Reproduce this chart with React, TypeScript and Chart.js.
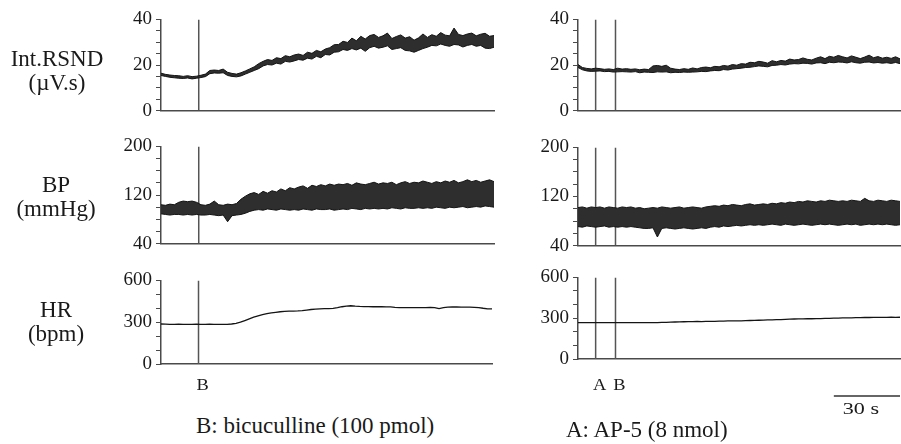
import React, { useEffect, useRef } from "react";
import { Chart, registerables } from "chart.js";

Chart.register(...registerables);

// ---------------- data ----------------
const STEP_S = 2; // sampling interval of the read-off values, seconds
const LEFT_MAX_S = 150;
const RIGHT_MAX_S = 146;

const LEFT_MARKER_TIMES = [17];
const LEFT_MARKER_LABELS = ["B"];
const RIGHT_MARKER_TIMES = [8, 17];
const RIGHT_MARKER_LABELS = ["A", "B"];
const SCALE_BAR_S = 30;
const SCALE_BAR_LABEL = "30 s";

const RSND_TICK_LABELS = [0, 20, 40];
const BP_TICK_LABELS = [40, 120, 200];
const HR_TICK_LABELS = [0, 300, 600];

// Left column (bicuculline), upper/lower envelope of Int.RSND (µV.s)
const RSND_L_HI = [
  16.4, 15.9, 15.6, 15.4, 15.3, 15.0, 15.3, 14.9, 15.1, 15.5,
  16.0, 17.6, 17.8, 17.6, 18.2, 16.8, 16.3, 16.0, 16.6, 17.4,
  18.3, 19.2, 20.6, 21.6, 22.4, 22.0, 23.2, 22.8, 24.1, 23.6,
  24.4, 24.8, 24.2, 25.6, 25.1, 26.4, 25.8, 27.0, 27.6, 28.9,
  29.0, 30.4, 29.9, 31.8, 30.6, 32.6, 31.4, 32.9, 33.4, 32.1,
  32.8, 34.0, 31.6, 32.5, 33.2, 31.8, 32.4, 30.9, 31.9, 33.6,
  32.1, 33.3, 32.6, 34.2, 33.1, 32.8, 36.2, 33.4, 32.9, 33.6,
  34.0, 32.8, 33.5, 33.9, 32.6, 32.9,
];
const RSND_L_LO = [
  15.4, 15.0, 14.6, 14.4, 14.2, 14.1, 14.3, 13.9, 14.2, 14.5,
  14.9, 16.2, 16.5, 16.4, 16.6, 15.4, 15.0, 14.8, 15.2, 16.0,
  16.8, 17.6, 18.4, 19.6, 20.2, 20.0, 20.8, 20.4, 21.6, 21.3,
  21.8, 22.4, 22.1, 23.0, 22.6, 23.8, 23.2, 24.6, 24.4, 25.6,
  25.8, 26.8, 26.4, 27.2, 26.6, 27.4, 26.0, 27.6, 28.2, 27.4,
  27.8, 28.4, 26.8, 27.2, 27.6, 26.4, 26.2, 25.6, 26.4, 27.2,
  27.8, 28.6, 28.4, 29.2, 28.6, 28.2, 29.0, 28.8, 27.9, 28.6,
  29.0, 28.2, 28.6, 27.4, 27.2, 27.8,
];
// Left column BP (mmHg) systolic / diastolic envelope
const BP_L_SYS = [
  104, 103, 105, 104, 108, 110, 109, 110, 108, 104,
  103, 105, 110, 104, 103, 105, 104, 106, 113, 118,
  122, 124, 121, 126, 123, 127, 125, 130, 127, 132,
  130, 133, 135, 131, 136, 134, 137, 135, 138, 136,
  138, 137, 139, 136, 140, 138, 137, 139, 141, 138,
  140, 139, 141, 137, 140, 142, 139, 141, 140, 143,
  141, 139, 142, 140, 143, 141, 144, 140, 142, 145,
  142, 144, 141, 143, 145, 142,
];
const BP_L_DIA = [
  89, 88, 87, 88, 88, 87, 88, 87, 88, 87,
  87, 88, 87, 86, 87, 76, 86, 87, 88, 90,
  93, 95, 96, 95, 97, 96, 95, 97, 96, 95,
  96, 95, 97, 96, 95, 97, 96, 96, 97, 95,
  96, 97, 96, 98, 97, 96, 98, 97, 98, 97,
  98, 97, 99, 98, 97, 99, 98, 98, 99, 98,
  99, 98, 100, 99, 98, 100, 99, 100, 101, 99,
  100, 101, 100, 102, 101, 100,
];
// Left column HR (bpm)
const HR_L = [
  287, 286, 285, 285, 286, 285, 284, 285, 286, 285,
  285, 286, 284, 285, 285, 284, 287, 292, 300, 312,
  324, 336, 346, 354, 361, 367, 371, 375, 378, 380,
  380, 381, 383, 387, 391, 394, 396, 397, 398, 399,
  404, 411, 416, 418, 415, 413, 412, 412, 411, 412,
  411, 410, 410, 407, 405, 404, 404, 405, 404, 404,
  405, 407, 404, 398, 404, 408, 410, 409, 408, 408,
  408, 407, 405, 400, 396, 395,
];

// Right column (AP-5 then bicuculline)
const RSND_R_HI = [
  20.2, 18.9, 18.5, 18.3, 18.6, 18.4, 18.1, 18.3, 18.0, 18.6,
  18.2, 18.4, 18.1, 18.3, 17.9, 18.2, 18.0, 19.6, 19.8, 19.4,
  19.9, 18.6, 18.2, 18.0, 18.4, 18.1, 18.7, 18.3, 18.9, 19.1,
  18.8, 19.4, 19.2, 19.8, 19.5, 20.2, 19.9, 20.6, 20.4, 21.2,
  21.0, 21.6, 21.3, 20.8, 21.9, 21.4, 22.0, 21.7, 22.6, 22.2,
  22.4, 23.1, 22.5, 22.2, 23.0, 23.6, 22.8, 23.8, 23.4, 24.2,
  23.6, 23.1, 24.0, 23.4, 22.8, 23.5, 24.3, 23.2, 23.7, 23.0,
  23.4, 22.9, 23.6, 22.7,
];
const RSND_R_LO = [
  18.9, 17.9, 17.4, 17.2, 17.3, 17.4, 17.1, 17.2, 16.9, 17.0,
  17.1, 17.0, 16.9, 17.1, 16.6, 16.9, 16.8, 16.7, 17.0, 16.9,
  17.0, 16.6, 16.8, 16.7, 16.9, 16.8, 16.9, 17.0, 17.2, 17.1,
  17.4, 17.6, 17.5, 18.0, 17.8, 18.2, 18.4, 18.6, 18.9, 19.0,
  19.3, 19.6, 19.4, 19.2, 19.8, 19.9, 20.2, 20.0, 20.4, 20.6,
  20.5, 20.8, 20.7, 20.4, 20.9, 21.0, 20.6, 21.2, 21.0, 21.3,
  21.2, 20.9, 21.4, 21.0, 20.8, 21.2, 21.3, 20.9, 21.1, 20.8,
  21.0, 20.7, 21.1, 20.6,
];
const BP_R_SYS = [
  102, 103, 101, 103, 102, 103, 101, 103, 102, 101,
  103, 102, 103, 101, 102, 100, 101, 102, 101, 103,
  102, 101, 102, 103, 101, 102, 103, 102, 101, 103,
  104, 105, 104, 106, 105, 107, 106, 105, 107, 108,
  106, 107, 108, 107, 109, 108, 110, 109, 111, 110,
  112, 111, 113, 112, 111, 113, 112, 114, 113, 112,
  113, 112, 114, 113, 112, 117, 113, 112, 114, 113,
  112, 114, 113, 112,
];
const BP_R_DIA = [
  71, 70, 72, 71, 70, 71, 72, 70, 71, 70,
  71, 70, 71, 70, 69, 68, 68, 69, 54, 68,
  69, 68, 67, 68, 69, 68, 67, 68, 69, 68,
  70, 71, 70, 72, 71, 72, 73, 72, 73, 74,
  73, 74, 73, 74, 75, 74, 73, 75, 74, 73,
  74, 75, 74, 73, 74, 75, 74, 75, 74, 73,
  74, 75, 74, 75, 73, 74, 75, 74, 75, 74,
  75, 74, 73, 74,
];
const HR_R = [
  268, 267, 267, 268, 267, 267, 268, 267, 267, 268,
  267, 267, 268, 267, 268, 268, 267, 268, 268, 269,
  270, 271, 272, 273, 274, 275, 275, 276, 275, 276,
  276, 277, 278, 279, 280, 280, 281, 281, 282, 283,
  284, 285, 286, 287, 288, 289, 290, 292, 293, 294,
  295, 295, 296, 296, 297, 297, 298, 299, 300, 301,
  302, 303, 303, 304, 304, 305, 305, 306, 306, 306,
  306, 307, 306, 307,
];

// ---------------- styles / layout ----------------
const TRACE = "#141414";
const TRACE_FILL = "#2e2e2e";
const AXIS = "#4a4a4a";
const MARKER = "#555555";
const TEXT = "#1a1a1a";
const SERIF = '"Liberation Serif", "DejaVu Serif", serif';
const YW = 60; // reserved width of the y axis
const PT = 14;
const PR = 2;

type Panel = {
  key: string;
  axisX: number;
  rightX: number;
  topY: number;
  bottomY: number;
  padBottom: number;
  xMax: number;
  yMin: number;
  yMax: number;
  yStep: number;
  yLabels: number[];
  band?: [number[], number[]];
  line?: number[];
  markers: number[];
  markerLabels?: string[];
  labelOffset?: number;
  scaleBar?: boolean;
};

const PANELS: Panel[] = [
  { key: "rsndL", axisX: 161, rightX: 494, topY: 18, bottomY: 114, padBottom: 12, xMax: LEFT_MAX_S, yMin: 0, yMax: 40, yStep: 5, yLabels: RSND_TICK_LABELS, band: [RSND_L_HI, RSND_L_LO], markers: LEFT_MARKER_TIMES },
  { key: "bpL", axisX: 161, rightX: 494, topY: 145, bottomY: 247, padBottom: 12, xMax: LEFT_MAX_S, yMin: 40, yMax: 200, yStep: 20, yLabels: BP_TICK_LABELS, band: [BP_L_SYS, BP_L_DIA], markers: LEFT_MARKER_TIMES },
  { key: "hrL", axisX: 161, rightX: 492, topY: 279, bottomY: 364, padBottom: 40, xMax: LEFT_MAX_S, yMin: 0, yMax: 600, yStep: 100, yLabels: HR_TICK_LABELS, line: HR_L, markers: LEFT_MARKER_TIMES, markerLabels: LEFT_MARKER_LABELS, labelOffset: 22 },
  { key: "rsndR", axisX: 578, rightX: 900, topY: 18, bottomY: 114, padBottom: 12, xMax: RIGHT_MAX_S, yMin: 0, yMax: 40, yStep: 5, yLabels: RSND_TICK_LABELS, band: [RSND_R_HI, RSND_R_LO], markers: RIGHT_MARKER_TIMES },
  { key: "bpR", axisX: 578, rightX: 900, topY: 146, bottomY: 249, padBottom: 12, xMax: RIGHT_MAX_S, yMin: 40, yMax: 200, yStep: 20, yLabels: BP_TICK_LABELS, band: [BP_R_SYS, BP_R_DIA], markers: RIGHT_MARKER_TIMES },
  { key: "hrR", axisX: 578, rightX: 900, topY: 276, bottomY: 359, padBottom: 64, xMax: RIGHT_MAX_S, yMin: 0, yMax: 600, yStep: 100, yLabels: HR_TICK_LABELS, line: HR_R, markers: RIGHT_MARKER_TIMES, markerLabels: RIGHT_MARKER_LABELS, labelOffset: 27, scaleBar: true },
];

const toXY = (values: number[]) => values.map((v, i) => ({ x: i * STEP_S, y: v }));

function drawStretched(ctx: CanvasRenderingContext2D, text: string, x: number, y: number, size: number, sx: number, align: CanvasTextAlign) {
  ctx.save();
  ctx.font = `${size}px ${SERIF}`;
  ctx.fillStyle = TEXT;
  ctx.textAlign = align;
  ctx.textBaseline = "middle";
  ctx.translate(x, y);
  ctx.scale(sx, 1);
  ctx.fillText(text, 0, 0);
  ctx.restore();
}

const annotPlugin = {
  id: "annot",
  afterDraw(chart: any, _args: any, opts: any) {
    const { ctx, chartArea, scales } = chart;
    const xs = scales.x;
    if (opts.labels) {
      opts.times.forEach((t: number, i: number) => {
        drawStretched(ctx, opts.labels[i], xs.getPixelForValue(t) + 4, chartArea.bottom + opts.offset, 16, 1.15, "center");
      });
    }
    if (opts.scaleBar) {
      const x1 = xs.getPixelForValue(xs.max - SCALE_BAR_S);
      const x2 = xs.getPixelForValue(xs.max);
      const y = chartArea.bottom + 37;
      ctx.save();
      ctx.strokeStyle = "#333";
      ctx.lineWidth = 1.5;
      ctx.beginPath();
      ctx.moveTo(x1, y);
      ctx.lineTo(x2, y);
      ctx.stroke();
      ctx.restore();
      drawStretched(ctx, SCALE_BAR_LABEL, (x1 + x2) / 2 - 6, y + 14, 17, 1.3, "center");
    }
  },
};

function PanelChart({ p }: { p: Panel }) {
  const ref = useRef<HTMLCanvasElement>(null);
  const w = p.rightX - p.axisX + YW + PR;
  const h = p.bottomY - p.topY + PT + p.padBottom;
  useEffect(() => {
    const datasets: any[] = [];
    if (p.band) {
      datasets.push({ type: "line", data: toXY(p.band[0]), borderColor: TRACE, borderWidth: 1, pointRadius: 0, fill: false, tension: 0 });
      datasets.push({ type: "line", data: toXY(p.band[1]), borderColor: TRACE, borderWidth: 1, pointRadius: 0, fill: "-1", backgroundColor: TRACE_FILL, tension: 0 });
    }
    if (p.line) {
      datasets.push({ type: "line", data: toXY(p.line), borderColor: TRACE, borderWidth: 1.3, pointRadius: 0, fill: false, tension: 0 });
    }
    p.markers.forEach((t) => {
      datasets.push({ type: "line", data: [{ x: t, y: p.yMin }, { x: t, y: p.yMax }], borderColor: MARKER, borderWidth: 1.5, pointRadius: 0, fill: false });
    });
    const chart = new Chart(ref.current as HTMLCanvasElement, {
      type: "line",
      data: { datasets },
      plugins: [annotPlugin as any],
      options: {
        animation: false,
        responsive: false,
        devicePixelRatio: window.devicePixelRatio || 1,
        events: [],
        layout: { padding: { top: PT, bottom: p.padBottom, left: 0, right: PR } },
        plugins: {
          legend: { display: false },
          tooltip: { enabled: false },
          annot: { times: p.markers, labels: p.markerLabels, offset: p.labelOffset, scaleBar: p.scaleBar },
        } as any,
        scales: {
          x: {
            type: "linear",
            min: 0,
            max: p.xMax,
            ticks: { display: false },
            grid: { display: false, drawTicks: false },
            border: { display: true, color: AXIS, width: 1.5 },
          },
          y: {
            type: "linear",
            min: p.yMin,
            max: p.yMax,
            afterFit: (s: any) => {
              s.width = YW;
            },
            ticks: {
              stepSize: p.yStep,
              autoSkip: false,
              padding: 4,
              color: TEXT,
              font: { family: SERIF, size: 19 },
              callback: (v: any) => (p.yLabels.includes(Number(v)) ? String(v) : ""),
            },
            grid: { drawOnChartArea: false, drawTicks: true, tickLength: 5, color: AXIS, lineWidth: 1 },
            border: { display: true, color: AXIS, width: 1.5 },
          },
        },
      },
    });
    return () => chart.destroy();
  }, []);
  return (
    <canvas
      ref={ref}
      width={w}
      height={h}
      style={{ position: "absolute", left: p.axisX - YW, top: p.topY - PT, width: w, height: h }}
    />
  );
}

type Lbl = { text: string; x: number; y: number; size: number; align?: "center" | "left" };
const ROW_LABELS: Lbl[] = [
  { text: "Int.RSND", x: 57, y: 58, size: 23 },
  { text: "(\u00b5V.s)", x: 57, y: 82, size: 23 },
  { text: "BP", x: 56, y: 184, size: 23 },
  { text: "(mmHg)", x: 56, y: 208, size: 23 },
  { text: "HR", x: 56, y: 309, size: 23 },
  { text: "(bpm)", x: 56, y: 333, size: 23 },
];
const CAPTIONS: Lbl[] = [
  { text: "B: bicuculline (100 pmol)", x: 196, y: 425, size: 23, align: "left" },
  { text: "A: AP-5 (8 nmol)", x: 566, y: 429, size: 23, align: "left" },
];

function TextLabel({ l }: { l: Lbl }) {
  const left = l.align === "left";
  return (
    <div
      style={{
        position: "absolute",
        left: l.x,
        top: l.y,
        transform: left ? "translate(0,-50%)" : "translate(-50%,-50%)",
        fontFamily: SERIF,
        fontSize: l.size,
        lineHeight: 1,
        color: TEXT,
        whiteSpace: "nowrap",
      }}
    >
      {l.text}
    </div>
  );
}

export default function App() {
  useEffect(() => {
    document.body.style.margin = "0";
  }, []);
  return (
    <div style={{ position: "fixed", left: 0, top: 0, width: 901, height: 444, background: "#fff", overflow: "hidden" }}>
      {PANELS.map((p) => (
        <PanelChart key={p.key} p={p} />
      ))}
      {ROW_LABELS.map((l) => (
        <TextLabel key={l.text} l={l} />
      ))}
      {CAPTIONS.map((l) => (
        <TextLabel key={l.text} l={l} />
      ))}
    </div>
  );
}
